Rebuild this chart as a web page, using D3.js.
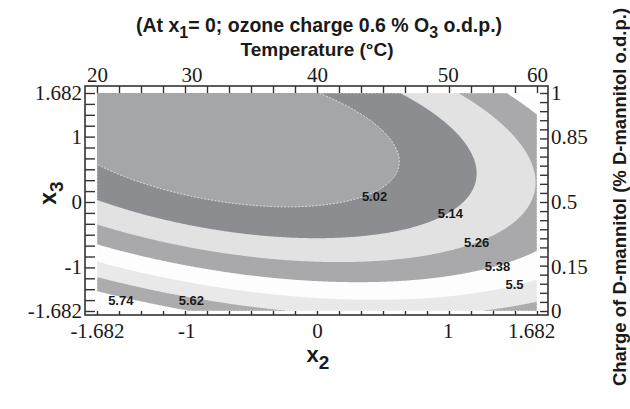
<!DOCTYPE html>
<html>
<head>
<meta charset="utf-8">
<script src="https://cdn.jsdelivr.net/npm/d3@7"></script>
<style>
  body { margin: 0; background: #fff; }
  svg { display: block; }
  .sans { font-family: "Liberation Sans", Arial, sans-serif; font-weight: bold; fill: #1a1a1a; }
  .serif { font-family: "Liberation Serif", "Times New Roman", serif; font-size: 21px; fill: #1a1a1a; }
</style>
</head>
<body>
<div id="chart"></div>
<script>
// Fitted response surface (coded x2, x3 at x1 = 0)
let coefNames = ["b0", "b2", "b3", "b22", "b33", "b23"];
let coefValues = [5.01, 0.0367, -0.1735, 0.071, 0.106, 0.0657];

// Contour levels and fill of each band (lowest first)
let levels = [5.02, 5.14, 5.26, 5.38, 5.5, 5.62, 5.74];
let bandColors = ["#a5a6aa", "#8c8d91", "#e2e2e3", "#a9a9ab", "#fdfdfd", "#e9e9e9", "#acacae", "#fdfdfd"];

// Contour labels, anchored in coded units
let labelText = ["5.02", "5.14", "5.26", "5.38", "5.5", "5.62", "5.74"];
let labelX2 = [0.44, 1.02, 1.22, 1.38, 1.51, -0.96, -1.50];
let labelX3 = [0.08, -0.17, -0.62, -1.00, -1.27, -1.51, -1.51];

// Axis ticks
let codedTicks = [-1.682, -1, 0, 1, 1.682];
let codedLabels = ["-1.682", "-1", "0", "1", "1.682"];
let tempTicks = [-1.682, -0.96, 0, 1, 1.682];
let tempLabels = ["20", "30", "40", "50", "60"];
let mannitolTicks = [1.682, 1, 0, -1, -1.682];
let mannitolLabels = ["1", "0.85", "0.5", "0.15", "0"];

let svgWidth = 630,
    svgHeight = 409;

let svg = d3.select('#chart')
    .append('svg')
    .attr('width', svgWidth)
    .attr('height', svgHeight);

let x = d3.scaleLinear().domain([-1.682, 1.682]).range([97, 537]);
let y = d3.scaleLinear().domain([-1.682, 1.682]).range([311, 93]);

let coef = {};
coefNames.forEach((n, i) => coef[n] = coefValues[i]);

function response(x2, x3) {
    return coef.b0 + coef.b2 * x2 + coef.b3 * x3 +
        coef.b22 * x2 * x2 + coef.b33 * x3 * x3 + coef.b23 * x2 * x3;
}

// Sample the surface on a pixel grid
let nx = Math.round(x.range()[1] - x.range()[0]),
    ny = Math.round(y.range()[0] - y.range()[1]);
let gx = d3.scaleLinear().domain([0, nx]).range(x.range());
let gy = d3.scaleLinear().domain([0, ny]).range([y.range()[1], y.range()[0]]);

let grid = new Float64Array(nx * ny);
for (let j = 0; j < ny; j++) {
    let x3 = y.invert(gy(j + 0.5));
    for (let i = 0; i < nx; i++) {
        grid[j * nx + i] = response(x.invert(gx(i + 0.5)), x3);
    }
}

let contours = d3.contours().size([nx, ny]).thresholds(levels)(grid);

let path = d3.geoPath(d3.geoTransform({
    point: function (px, py) { this.stream.point(gx(px), gy(py)); }
}));

let plot = svg.append('g');

// lowest band as background
plot.append('rect')
    .attr('x', x(-1.682)).attr('y', y(1.682))
    .attr('width', x(1.682) - x(-1.682))
    .attr('height', y(-1.682) - y(1.682))
    .attr('fill', bandColors[0]);

plot.selectAll('path.band')
    .data(contours)
    .enter()
    .append('path')
    .attr('class', 'band')
    .attr('d', path)
    .attr('fill', (d, i) => bandColors[i + 1]);

// faint white line on the innermost contour
plot.append('path')
    .attr('d', path(contours[0]))
    .attr('fill', 'none')
    .attr('stroke', '#fff')
    .attr('stroke-width', 0.9)
    .attr('stroke-dasharray', '2,1.5')
    .attr('opacity', 0.8);

// contour labels
svg.append('g')
    .selectAll('text')
    .data(labelText)
    .enter()
    .append('text')
    .attr('class', 'sans')
    .style('font-size', '13px')
    .attr('x', (d, i) => x(labelX2[i]))
    .attr('y', (d, i) => y(labelX3[i]))
    .attr('dy', '0.36em')
    .attr('text-anchor', 'middle')
    .text(d => d);

// Frame
let fx0 = 85, fx1 = 548, fy0 = 86, fy1 = 315;
svg.append('rect')
    .attr('x', fx0).attr('y', fy0)
    .attr('width', fx1 - fx0).attr('height', fy1 - fy0)
    .attr('fill', 'none')
    .attr('stroke', '#333')
    .attr('stroke-width', 1.6);

let minorX = d3.range(21).map(i => -1.682 + i * 3.364 / 20);
let minorY = d3.range(21).map(i => -1.682 + i * 3.364 / 20);
let minorYR = d3.range(25).map(i => -1.682 + i * 3.364 / 24);

function minor(g) {
    g.select('.domain').remove();
    g.selectAll('line').attr('stroke', '#333').attr('stroke-width', 1.4);
}
function labels(g) {
    g.select('.domain').remove();
    g.selectAll('text').attr('class', 'serif').attr('fill', null);
}

svg.append('g').attr('transform', `translate(0,${fy0})`)
    .call(d3.axisBottom(x).tickValues(minorX).tickSize(7).tickFormat(''))
    .call(minor);
svg.append('g').attr('transform', `translate(0,${fy1})`)
    .call(d3.axisTop(x).tickValues(minorX).tickSize(4).tickFormat(''))
    .call(minor);
svg.append('g').attr('transform', `translate(${fx0},0)`)
    .call(d3.axisRight(y).tickValues(minorY).tickSize(10).tickFormat(''))
    .call(minor);
svg.append('g').attr('transform', `translate(${fx1},0)`)
    .call(d3.axisLeft(y).tickValues(minorYR).tickSize(8).tickFormat(''))
    .call(minor);

let bottomAxis = svg.append('g').attr('transform', `translate(0,${fy1})`)
    .call(d3.axisBottom(x).tickValues(codedTicks).tickSize(0).tickPadding(8)
        .tickFormat((d, i) => codedLabels[i]))
    .call(labels);
// last label sits a little inside, clear of the right axis "0"
bottomAxis.selectAll('text').filter(d => d === 1.682).attr('dx', -6);

svg.append('g').attr('transform', `translate(0,${fy0})`)
    .call(d3.axisTop(x).tickValues(tempTicks).tickSize(0).tickPadding(4)
        .tickFormat((d, i) => tempLabels[i]))
    .call(labels);
svg.append('g').attr('transform', `translate(${fx0},0)`)
    .call(d3.axisLeft(y).tickValues(codedTicks).tickSize(0).tickPadding(3)
        .tickFormat((d, i) => codedLabels[i]))
    .call(labels);
svg.append('g').attr('transform', `translate(${fx1},0)`)
    .call(d3.axisRight(y).tickValues(mannitolTicks).tickSize(0).tickPadding(3)
        .tickFormat((d, i) => mannitolLabels[i]))
    .call(labels);

// Titles
let title = svg.append('text').attr('class', 'sans')
    .style('font-size', '19.5px')
    .attr('x', 319).attr('y', 32)
    .attr('text-anchor', 'middle');
title.append('tspan').text('(At x');
title.append('tspan').attr('dy', 6).style('font-size', '16px').text('1');
title.append('tspan').attr('dy', -6).text('= 0; ozone charge 0.6 % O');
title.append('tspan').attr('dy', 6).style('font-size', '16px').text('3');
title.append('tspan').attr('dy', -6).text(' o.d.p.)');

svg.append('text').attr('class', 'sans')
    .style('font-size', '19px')
    .attr('x', 317).attr('y', 56)
    .attr('text-anchor', 'middle')
    .text('Temperature (°C)');

let xt = svg.append('text').attr('class', 'sans')
    .style('font-size', '22px')
    .attr('x', 318).attr('y', 362)
    .attr('text-anchor', 'middle');
xt.append('tspan').text('x');
xt.append('tspan').attr('dy', 7).style('font-size', '19px').text('2');

let yt = svg.append('text').attr('class', 'sans')
    .style('font-size', '23px')
    .attr('transform', 'translate(56,193) rotate(-90)')
    .attr('text-anchor', 'middle');
yt.append('tspan').text('x');
yt.append('tspan').attr('dy', 7).style('font-size', '19px').text('3');

svg.append('text').attr('class', 'sans')
    .style('font-size', '18.5px')
    .attr('transform', 'translate(626,197) rotate(-90)')
    .attr('text-anchor', 'middle')
    .text('Charge of D-mannitol (% D-mannitol o.d.p.)');
</script>
</body>
</html>
